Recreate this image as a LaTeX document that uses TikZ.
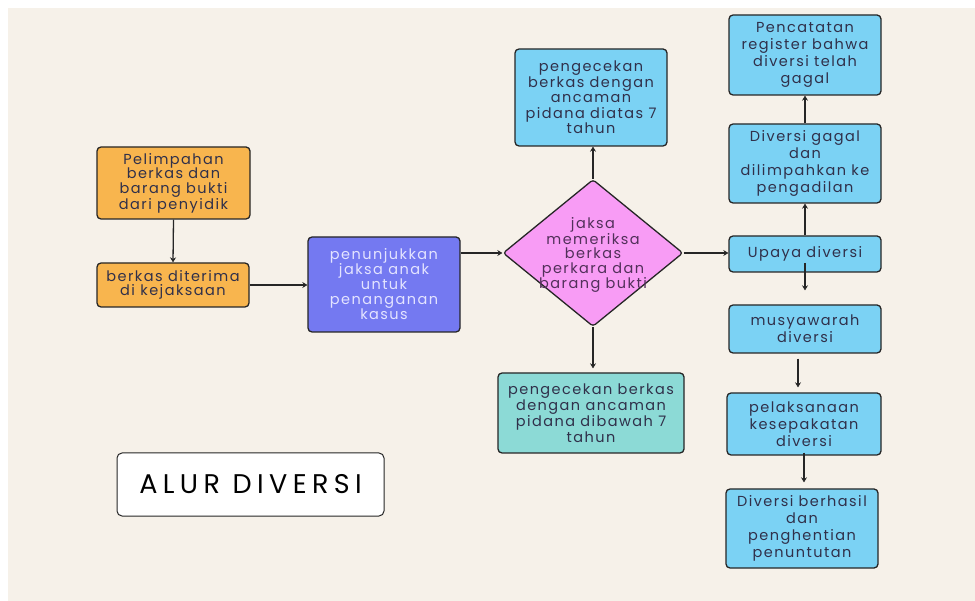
\documentclass[tikz,border=0pt]{standalone}
\usepackage{fontspec}
\setmainfont{Poppins}
\newfontfamily\boxfont[LetterSpace=10]{Poppins}
\newfontfamily\titlefont[LetterSpace=20]{Poppins}
\usepackage{tikz}
\usetikzlibrary{arrows.meta}
\usetikzlibrary{shapes.geometric}
\definecolor{latar}{HTML}{F6F1E9}
\definecolor{garis}{HTML}{262626}
\definecolor{tinta}{HTML}{30304A}
\definecolor{oranye}{HTML}{F8B54E}
\definecolor{ungu}{HTML}{7479F1}
\definecolor{ungumuda}{HTML}{E4E4FF}
\definecolor{merahmuda}{HTML}{F89CF5}
\definecolor{ungutua}{HTML}{52305A}
\definecolor{biru}{HTML}{7BD2F4}
\definecolor{tosca}{HTML}{8CDAD6}

\begin{document}
\begin{tikzpicture}[x=1pt, y=-1pt,
    box/.style={draw=garis, line width=1.3pt, rounded corners=4pt, inner sep=0pt,
      align=center, text=tinta, font=\boxfont\fontsize{14.5}{14.5}\selectfont},
    kanan/.style={box, fill=biru, minimum width=152, font=\boxfont\fontsize{14.5}{17}\selectfont},
    flow/.style={draw=garis, line width=1.3pt, -{Stealth[length=5pt,width=6pt]}}]
    \useasboundingbox (0,0) rectangle (975,601);
    \fill[white] (0,0) rectangle (975,601);
    \fill[latar] (8,8) rectangle (975,601);

    \node[box, fill=oranye, minimum width=153, minimum height=72] (pel) at (173.5,183)
      {Pelimpahan\\berkas dan\\barang bukti\\dari penyidik};
    \node[box, fill=oranye, minimum width=152, minimum height=44] (ter) at (173,285)
      {berkas diterima\\di kejaksaan};
    \node[box, fill=ungu, text=ungumuda, minimum width=152, minimum height=95,
      font=\boxfont\fontsize{14.5}{15}\selectfont] (tunjuk) at (384,284.5)
      {penunjukkan\\jaksa anak\\untuk\\penanganan\\kasus};
    \node[diamond, draw=garis, line width=1.3pt, fill=merahmuda, rounded corners=3pt,
      inner sep=0pt, minimum width=180, minimum height=147,
      label={[align=center, text=ungutua, font=\boxfont\fontsize{14.5}{14.5}\selectfont, yshift=-2pt]center:
        jaksa\\memeriksa\\berkas\\perkara dan\\barang bukti}] (periksa) at (593,253) {};
    \node[box, fill=biru, minimum width=152, minimum height=97, font=\boxfont\fontsize{14.5}{15.5}\selectfont] (atas) at (591,97.5)
      {pengecekan\\berkas dengan\\ancaman\\pidana diatas 7\\tahun};
    \node[box, fill=tosca, minimum width=186, minimum height=80, font=\boxfont\fontsize{14.5}{16}\selectfont] (bawah) at (591,413)
      {pengecekan berkas\\dengan ancaman\\pidana dibawah 7\\tahun};
    \node[kanan, minimum height=80] (catat) at (805,55)
      {Pencatatan\\register bahwa\\diversi telah\\gagal};
    \node[kanan, minimum height=79] (gagal) at (805,163.5)
      {Diversi gagal\\dan\\dilimpahkan ke\\pengadilan};
    \node[kanan, minimum height=36] (upaya) at (805,254) {Upaya diversi};
    \node[kanan, minimum height=48] (musy) at (805,329) {musyawarah\\diversi};
    \node[kanan, minimum width=154, minimum height=62] (laks) at (804,424)
      {pelaksanaan\\kesepakatan\\diversi};
    \node[kanan, minimum height=79] (hasil) at (802,528.5)
      {Diversi berhasil\\dan\\penghentian\\penuntutan};
    \node[box, fill=white, line width=1pt, rounded corners=5pt, minimum width=267, minimum height=63,
      text=black, font=\titlefont\fontsize{27}{30}\selectfont] (judul) at (250.5,484.5) {ALUR DIVERSI};

    \draw[flow] (pel.south) -- (ter.north);
    \draw[flow] (ter.east) -- (ter.east -| tunjuk.west);
    \draw[flow] (tunjuk.east |- periksa.west) -- (periksa.west);
    \draw[flow] (periksa.north) -- (periksa.north |- atas.south);
    \draw[flow, shorten >=4pt] (periksa.south) -- (periksa.south |- bawah.north);
    \draw[flow] (periksa.east) -- (periksa.east -| upaya.west);
    \draw[flow] (upaya.north) -- (gagal.south);
    \draw[flow] (gagal.north) -- (catat.south);
    \draw[flow] ([yshift=-9pt]upaya.center) -- ([yshift=14pt]musy.north);
    \draw[flow] ([xshift=-7pt,yshift=-5pt]musy.south) -- ([xshift=-6pt,yshift=5pt]laks.north);
    \draw[flow] ([yshift=3pt]laks.south) -- ([xshift=2pt,yshift=6pt]hasil.north);
\end{tikzpicture}
\end{document}
